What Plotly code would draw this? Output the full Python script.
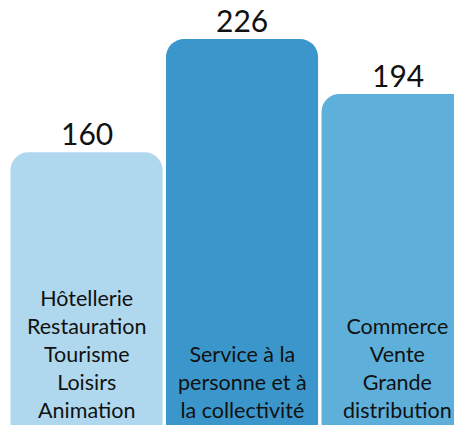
import plotly.graph_objects as go

categories = ["Hôtellerie<br>Restauration<br>Tourisme<br>Loisirs<br>Animation",
              "Service à la<br>personne et à<br>la collectivité",
              "Commerce<br>Vente<br>Grande<br>distribution"]
values = [160, 226, 194]
colors = ["#AFD8EF", "#3B97CB", "#5EB0DB"]

x = [0, 1, 2]

fig = go.Figure()
fig.add_trace(go.Bar(
    x=x, y=values,
    marker=dict(color=colors, cornerradius=18, line=dict(width=0)),
    hoverinfo="skip",
))

for xi, v, c in zip(x, values, categories):
    fig.add_annotation(x=xi, y=v, text=str(v), showarrow=False,
                       yanchor="bottom", yshift=-1,
                       font=dict(family="Lato", size=30, color="#111111"))
    fig.add_annotation(x=xi, y=0, text=c, showarrow=False,
                       yanchor="bottom", yshift=2, align="center",
                       font=dict(family="Lato", size=21.5, color="#111111"))

fig.update_layout(
    width=462, height=425,
    margin=dict(l=0, r=0, t=0, b=0),
    paper_bgcolor="white", plot_bgcolor="white",
    bargap=0.022,
    showlegend=False,
    xaxis=dict(range=[-0.505, 2.466], visible=False, fixedrange=True),
    yaxis=dict(range=[-3.7, 244.1], visible=False, fixedrange=True),
)

fig.write_html("out.html")
